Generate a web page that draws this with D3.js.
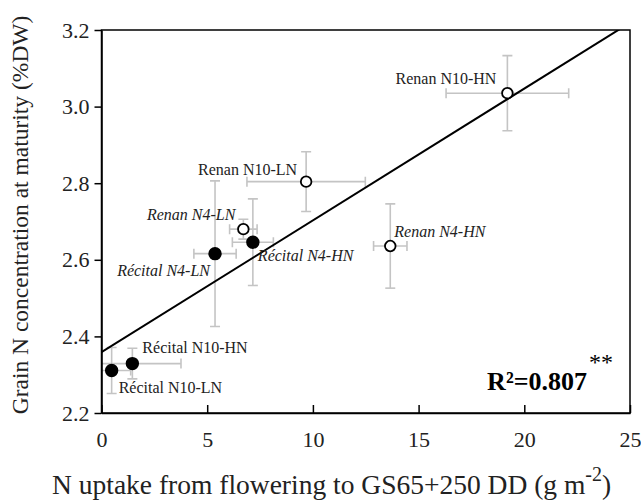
<!DOCTYPE html>
<html>
<head>
<meta charset="utf-8">
<style>
body { margin: 0; background: #fff; }
text { font-family: "Liberation Serif", "Times New Roman", serif; }
</style>
</head>
<body>
<script src="https://cdn.jsdelivr.net/npm/d3@7"></script>
<script>

// data
var names = ["Renan N10-HN", "Renan N10-LN", "Renan N4-LN", "Récital N4-HN",
             "Récital N4-LN", "Renan N4-HN", "Récital N10-HN", "Récital N10-LN"];
var nUptake = [19.2, 9.68, 6.71, 7.16, 5.37, 13.66, 1.46, 0.48];
var nUptakeErr = [2.9, 2.8, 0.65, 0.97, 1.0, 0.79, 2.3, 0.9];
var grainN = [3.035, 2.804, 2.680, 2.646, 2.616, 2.636, 2.329, 2.311];
var grainNErr = [0.098, 0.078, 0.026, 0.113, 0.19, 0.11, 0.04, 0.06];
var cultivar = ["Renan", "Renan", "Renan", "Récital", "Récital", "Renan", "Récital", "Récital"];
var italicLabel = [false, false, true, true, true, true, false, false];

var xTicks = [0, 5, 10, 15, 20, 25];
var yTicks = [2.2, 2.4, 2.6, 2.8, 3.0, 3.2];

// regression
var intercept = 2.359, slope = 0.0344;
var r2Text = "R²=0.807", sigText = "**";

// label placement (anchor, dx, dy) around each point
var labelPos = [["end", -11, -9], ["end", -9, -7], ["end", -8, -9], ["start", 5, 19],
                ["end", -5, 22], ["start", 4, -9], ["start", 10, -11], ["start", 7, 23]];

var W = 641, H = 501;
var margin = {top: 30, right: 11, bottom: 88, left: 101.5};
var width = W - margin.left - margin.right,
    height = H - margin.top - margin.bottom;

var svg = d3.select("body").append("svg")
    .attr("width", W)
    .attr("height", H);

var g = svg.append("g")
    .attr("transform", "translate(" + margin.left + "," + margin.top + ")");

var x = d3.scaleLinear().domain([0, 25]).range([0, width]);
var y = d3.scaleLinear().domain([2.2, 3.2]).range([height, 0]);

g.append("defs").append("clipPath").attr("id", "clip")
  .append("rect").attr("width", width).attr("height", height);

// error bars
var ebColor = "#c4c4c4", cap = 5;
var eb = g.append("g").attr("clip-path", "url(#clip)")
    .attr("stroke", ebColor).attr("stroke-width", 1.6).attr("fill", "none");

names.forEach(function(n, i) {
  var cx = x(nUptake[i]), cy = y(grainN[i]);
  var x0 = x(nUptake[i] - nUptakeErr[i]), x1 = x(nUptake[i] + nUptakeErr[i]);
  var y0 = y(grainN[i] - grainNErr[i]), y1 = y(grainN[i] + grainNErr[i]);
  eb.append("line").attr("x1", x0).attr("x2", x1).attr("y1", cy).attr("y2", cy);
  eb.append("line").attr("x1", x0).attr("x2", x0).attr("y1", cy - cap).attr("y2", cy + cap);
  eb.append("line").attr("x1", x1).attr("x2", x1).attr("y1", cy - cap).attr("y2", cy + cap);
  eb.append("line").attr("x1", cx).attr("x2", cx).attr("y1", y0).attr("y2", y1);
  eb.append("line").attr("x1", cx - cap).attr("x2", cx + cap).attr("y1", y0).attr("y2", y0);
  eb.append("line").attr("x1", cx - cap).attr("x2", cx + cap).attr("y1", y1).attr("y2", y1);
});

// regression line
var line = d3.line().x(d => x(d)).y(d => y(intercept + slope * d));
g.append("path")
    .datum([0, 25])
    .attr("clip-path", "url(#clip)")
    .attr("d", line)
    .attr("fill", "none")
    .attr("stroke", "#000")
    .attr("stroke-width", 2);

// points
g.selectAll(".pt")
    .data(names)
  .enter().append("circle")
    .attr("class", "pt")
    .attr("cx", (d, i) => x(nUptake[i]))
    .attr("cy", (d, i) => y(grainN[i]))
    .attr("r", (d, i) => cultivar[i] == "Renan" ? 5.3 : 5.8)
    .attr("fill", (d, i) => cultivar[i] == "Renan" ? "#fff" : "#000")
    .attr("stroke", "#000")
    .attr("stroke-width", 1.8);

// point labels
g.selectAll(".lbl")
    .data(names)
  .enter().append("text")
    .attr("class", "lbl")
    .attr("x", (d, i) => x(nUptake[i]) + labelPos[i][1])
    .attr("y", (d, i) => y(grainN[i]) + labelPos[i][2])
    .attr("text-anchor", (d, i) => labelPos[i][0])
    .attr("font-style", (d, i) => italicLabel[i] ? "italic" : "normal")
    .attr("font-size", 16)
    .attr("fill", "#222")
    .text(d => d);

// frame
g.append("rect")
    .attr("width", width).attr("height", height)
    .attr("fill", "none").attr("stroke", "#000").attr("stroke-width", 1.5);

// axes
var xAxis = g.append("g")
    .attr("transform", "translate(0," + height + ")")
    .call(d3.axisBottom(x).tickValues(xTicks).tickSizeInner(-8).tickSizeOuter(0).tickPadding(18).tickFormat(d3.format("d")));
var yAxis = g.append("g")
    .call(d3.axisLeft(y).tickValues(yTicks).tickSizeInner(7).tickSizeOuter(0).tickPadding(5).tickFormat(d3.format(".1f")));

[xAxis, yAxis].forEach(function(a) {
  a.select(".domain").attr("stroke", "#000").attr("stroke-width", 1.5);
  a.selectAll(".tick line").attr("stroke", "#000").attr("stroke-width", 1.5);
  a.selectAll("text").attr("font-family", "Liberation Serif").attr("font-size", 22).attr("fill", "#222");
});

// r squared
g.append("text")
    .attr("x", width - 43)
    .attr("y", height - 23)
    .attr("text-anchor", "end")
    .attr("font-weight", "bold")
    .attr("font-size", 26)
    .attr("fill", "#000")
    .text(r2Text);
g.append("text")
    .attr("x", width - 41)
    .attr("y", height - 43)
    .attr("font-size", 24)
    .attr("fill", "#000")
    .text(sigText);

// axis titles
svg.append("text")
    .attr("x", 52)
    .attr("y", 494)
    .attr("font-size", 27.5)
    .attr("fill", "#222")
    .text("N uptake from flowering to GS65+250 DD (g m")
  .append("tspan")
    .attr("dy", -13)
    .attr("font-size", 20)
    .text("-2")
  .clone(true)
    .attr("dy", 13)
    .attr("font-size", 27.5)
    .text(")");

svg.append("text")
    .attr("transform", "translate(28,215) rotate(-90)")
    .attr("text-anchor", "middle")
    .attr("font-size", 23.5)
    .attr("fill", "#222")
    .text("Grain N concentration at maturity (%DW)");

</script>
</body>
</html>
